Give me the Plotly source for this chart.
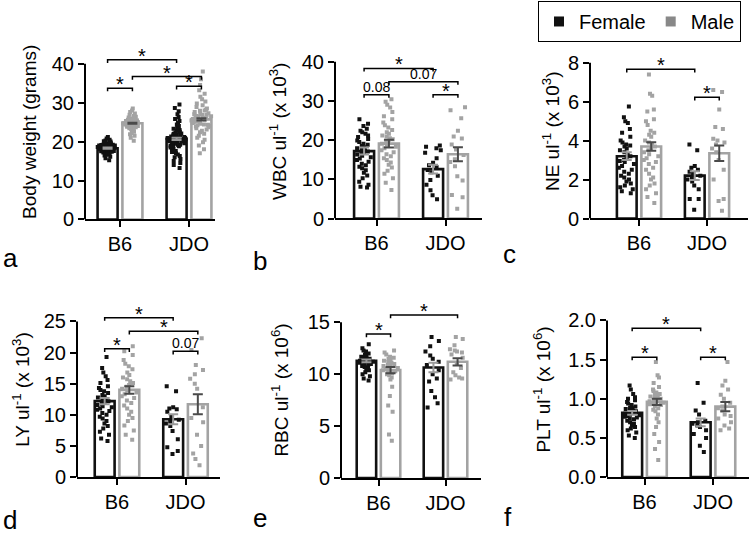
import plotly.graph_objects as go

groups = ['B6', 'JDO']
FEMALE_C = '#111111'
MALE_C = '#a3a3a3'
FONT = 'Liberation Sans, Arial, sans-serif'

# ── a: body weight (grams) ───────────────────────────────────────────────
bw_b6_f = [15.2, 15.7, 16.1, 16.4, 16.6, 16.8, 16.9, 17.0, 17.1, 17.2, 17.3, 17.3, 17.4, 17.5,
           17.5, 17.6, 17.7, 17.8, 17.8, 17.9, 18.0, 18.0, 18.1, 18.1, 18.2, 18.2, 18.3, 18.3,
           18.3, 18.4, 18.4, 18.5, 18.5, 18.5, 18.6, 18.6, 18.7, 18.7, 18.8, 18.8, 18.9, 18.9,
           19.0, 19.0, 19.1, 19.2, 19.2, 19.3, 19.4, 19.5, 19.6, 19.7, 19.8, 20.0, 20.1, 20.3,
           20.5, 20.8, 21.2, 17.9, 18.2, 18.4, 18.6, 18.1, 19.1, 17.6, 18.9, 18.0, 18.4, 18.7]
bw_b6_m = [20.2, 21.0, 21.5, 21.9, 22.2, 22.5, 22.8, 23.0, 23.2, 23.4, 23.5, 23.6, 23.8, 23.9,
           24.0, 24.1, 24.2, 24.2, 24.3, 24.4, 24.5, 24.5, 24.6, 24.6, 24.7, 24.7, 24.8, 24.8,
           24.9, 25.0, 25.0, 25.1, 25.2, 25.3, 25.3, 25.4, 25.5, 25.6, 25.7, 25.8, 26.0, 26.2,
           26.4, 26.6, 26.9, 27.2, 27.6, 28.0, 28.5, 24.3, 24.6, 24.9, 25.2, 24.4, 24.8, 25.5,
           23.7, 24.1, 25.9, 24.7]
bw_jdo_f = [13.2, 14.0, 14.5, 15.0, 15.5, 16.0, 16.3, 16.7, 17.0, 17.3, 17.6, 17.9, 18.1, 18.3,
            18.5, 18.7, 18.9, 19.1, 19.3, 19.5, 19.6, 19.8, 20.0, 20.1, 20.2, 20.3, 20.4, 20.5,
            20.6, 20.7, 20.8, 20.9, 21.0, 21.1, 21.2, 21.4, 21.5, 21.7, 21.9, 22.1, 22.3, 22.5,
            22.8, 23.0, 23.3, 23.6, 24.0, 24.4, 24.8, 25.3, 25.8, 26.3, 27.0, 27.8, 28.6, 29.5,
            19.4, 20.6, 21.3, 19.9, 20.9, 21.8, 18.8, 20.2, 22.0, 19.2]
bw_jdo_m = [17.0, 18.0, 19.0, 19.8, 20.5, 21.0, 21.5, 22.0, 22.4, 22.8, 23.1, 23.4, 23.7, 24.0,
            24.2, 24.4, 24.6, 24.8, 25.0, 25.2, 25.4, 25.6, 25.7, 25.8, 26.0, 26.2, 26.4, 26.6,
            26.8, 27.0, 27.3, 27.6, 27.9, 28.2, 28.5, 28.9, 29.3, 29.8, 30.3, 30.9, 31.5, 32.3,
            33.2, 34.5, 36.0, 38.0, 25.3, 26.1, 24.9, 27.1, 25.9, 26.5, 24.3, 28.0, 23.9, 26.9]
bw_mean = [18.3, 24.7, 20.7, 25.7]
bw_sem = [0.15, 0.15, 0.3, 0.3]

# ── b: WBC ───────────────────────────────────────────────────────────────
wbc_b6_f = [25.3, 24.2, 23.6, 22.9, 22.4, 22.0, 21.6, 21.2, 20.8, 20.3, 19.9, 19.5, 19.1, 18.8,
            18.5, 18.2, 17.9, 17.6, 17.4, 17.1, 16.9, 16.6, 16.3, 16.0, 15.6, 15.3, 14.9, 14.5,
            14.0, 13.6, 13.2, 12.8, 12.3, 11.7, 11.0, 10.3, 9.4, 8.6, 8.1, 7.9]
wbc_b6_m = [30.4, 29.8, 29.0, 28.3, 27.2, 26.1, 25.3, 24.5, 23.8, 23.2, 22.6, 22.0, 21.6, 21.2,
            20.9, 20.5, 20.2, 19.9, 19.5, 19.1, 18.7, 18.3, 17.9, 17.4, 16.9, 16.4, 15.9, 15.4,
            14.9, 14.3, 13.7, 13.0, 12.2, 11.4, 10.3, 9.1, 7.3]
wbc_jdo_f = [18.6, 18.3, 17.9, 17.4, 16.8, 15.4, 14.2, 13.6, 13.1, 12.4, 11.8, 10.9, 9.8, 8.6,
             7.2, 5.9, 4.9]
wbc_jdo_m = [28.4, 27.6, 25.6, 22.4, 20.9, 20.4, 18.9, 17.6, 16.2, 15.1, 14.4, 13.3, 10.8, 9.7,
             6.0, 5.4, 2.5]
wbc_mean = [17.2, 19.1, 12.6, 16.4]
wbc_sem = [0.9, 1.0, 1.1, 1.8]

# ── c: NE ────────────────────────────────────────────────────────────────
ne_b6_f = [5.75, 5.2, 5.0, 4.9, 4.6, 4.4, 4.2, 4.0, 3.9, 3.8, 3.75, 3.7, 3.6, 3.5, 3.4, 3.3, 3.2,
           3.1, 3.0, 2.95, 2.9, 2.8, 2.7, 2.6, 2.5, 2.4, 2.3, 2.2, 2.1, 2.0, 1.9, 1.8, 1.7, 1.6,
           1.5, 1.4, 1.3]
ne_b6_m = [7.4, 6.4, 6.3, 5.6, 5.5, 5.1, 5.0, 4.8, 4.5, 4.4, 4.3, 4.2, 4.0, 3.9, 3.8, 3.7, 3.6,
           3.5, 3.4, 3.3, 3.2, 3.1, 3.0, 2.9, 2.8, 2.6, 2.5, 2.3, 2.1, 2.0, 1.8, 1.7, 1.5, 1.3,
           1.1, 0.8]
ne_jdo_f = [3.8, 3.5, 2.7, 2.6, 2.5, 2.4, 2.3, 2.2, 2.1, 2.0, 1.9, 1.7, 1.5, 1.0, 1.0, 0.45]
ne_jdo_m = [6.6, 6.5, 5.6, 4.7, 4.6, 4.1, 4.0, 3.9, 3.8, 3.6, 3.4, 3.0, 2.5, 2.0, 1.0, 0.9, 0.4]
ne_mean = [3.2, 3.7, 2.2, 3.35]
ne_sem = [0.2, 0.22, 0.22, 0.4]

# ── d: LY ────────────────────────────────────────────────────────────────
ly_b6_f = [19.3, 17.5, 16.8, 16.2, 15.6, 15.1, 14.6, 14.3, 14.0, 13.8, 13.5, 13.2, 13.0, 12.8,
           12.6, 12.4, 12.2, 12.0, 11.8, 11.6, 11.4, 11.2, 11.0, 10.8, 10.6, 10.3, 10.0, 9.7,
           9.4, 9.0, 8.6, 8.2, 7.8, 7.3, 6.8, 6.2, 5.8]
ly_b6_m = [21.0, 20.2, 19.6, 18.8, 18.2, 17.8, 17.3, 16.8, 16.4, 16.0, 15.7, 15.4, 15.1, 14.8,
           14.5, 14.2, 13.9, 13.6, 13.3, 13.0, 12.7, 12.3, 11.9, 11.5, 11.0, 10.5, 10.0, 9.5,
           9.0, 8.3, 7.5, 6.8, 6.0]
ly_jdo_f = [14.6, 13.8, 11.2, 11.0, 10.9, 10.5, 9.8, 9.2, 8.9, 8.6, 8.2, 7.4, 6.1, 4.8, 4.2, 3.7]
ly_jdo_m = [22.3, 20.4, 18.0, 17.2, 16.5, 15.8, 15.0, 14.2, 11.2, 9.5, 8.8, 6.8, 5.0, 3.8, 2.9, 1.9]
ly_mean = [12.2, 14.0, 9.3, 11.7]
ly_sem = [0.5, 0.6, 0.8, 1.6]

# ── e: RBC ───────────────────────────────────────────────────────────────
rbc_b6_f = [12.9, 12.5, 12.3, 12.2, 12.0, 11.9, 11.8, 11.7, 11.6, 11.5, 11.5, 11.4, 11.4, 11.3,
            11.3, 11.2, 11.2, 11.1, 11.0, 11.0, 10.9, 10.8, 10.7, 10.6, 10.5, 10.4, 10.2, 10.0,
            9.8, 9.6, 9.4]
rbc_b6_m = [12.3, 12.1, 11.9, 11.7, 11.6, 11.5, 11.4, 11.3, 11.2, 11.1, 11.0, 10.9, 10.9, 10.8,
            10.7, 10.6, 10.5, 10.4, 10.3, 10.2, 10.1, 10.0, 9.9, 9.7, 9.5, 8.8, 7.9, 7.0, 6.4,
            4.2, 3.6]
rbc_jdo_f = [13.6, 13.2, 12.7, 12.2, 11.8, 11.5, 11.2, 10.9, 10.4, 10.0, 9.6, 9.3, 8.4, 7.8,
             7.2, 6.8]
rbc_jdo_m = [13.6, 13.4, 12.8, 12.4, 12.3, 12.2, 12.1, 11.9, 11.6, 11.0, 10.6, 10.2, 9.9, 9.7,
             9.6, 9.5]
rbc_mean = [11.3, 10.4, 10.65, 11.2]
rbc_sem = [0.13, 0.3, 0.45, 0.35]

# ── f: PLT ───────────────────────────────────────────────────────────────
plt_b6_f = [1.17, 1.12, 1.06, 1.02, 1.0, 0.98, 0.96, 0.94, 0.92, 0.9, 0.89, 0.88, 0.87, 0.86,
            0.85, 0.84, 0.83, 0.82, 0.81, 0.8, 0.79, 0.78, 0.77, 0.76, 0.75, 0.74, 0.72, 0.7,
            0.68, 0.66, 0.64, 0.62, 0.6, 0.57, 0.53, 0.5]
plt_b6_m = [1.47, 1.3, 1.27, 1.2, 1.15, 1.12, 1.1, 1.08, 1.06, 1.05, 1.04, 1.03, 1.02, 1.01,
            1.0, 0.99, 0.98, 0.97, 0.96, 0.95, 0.94, 0.93, 0.92, 0.9, 0.88, 0.86, 0.84, 0.8,
            0.75, 0.7, 0.64, 0.55, 0.45, 0.36, 0.22]
plt_jdo_f = [1.2, 0.95, 0.85, 0.8, 0.72, 0.7, 0.68, 0.66, 0.64, 0.6, 0.55, 0.5, 0.4, 0.32]
plt_jdo_m = [1.47, 1.23, 1.17, 1.12, 1.05, 1.0, 0.95, 0.9, 0.88, 0.85, 0.8, 0.78, 0.75, 0.7,
             0.66, 0.62, 0.6]
plt_mean = [0.82, 0.96, 0.70, 0.90]
plt_sem = [0.025, 0.04, 0.05, 0.06]

# significance brackets: (from group, to group, height, label); 0=B6 F, 1=B6 M, 2=JDO F, 3=JDO M
bw_sig = [(0, 2, 41.0, '*'), (1, 3, 36.7, '*'), (0, 1, 33.7, '*'), (2, 3, 34.2, '*')]
wbc_sig = [(0, 2, 38.3, '*'), (1, 3, 34.9, '0.07'), (0, 1, 31.6, '0.08'), (2, 3, 31.6, '*')]
ne_sig = [(0, 2, 7.66, '*'), (2, 3, 6.22, '*')]
ly_sig = [(0, 2, 25.6, '*'), (1, 3, 23.4, '*'), (0, 1, 20.6, '*'), (2, 3, 20.2, '0.07')]
rbc_sig = [(1, 3, 15.7, '*'), (0, 1, 13.87, '*')]
plt_sig = [(0, 2, 1.9, '*'), (0, 1, 1.53, '*'), (2, 3, 1.53, '*')]

# panel layout in pixels: axis left/right, y of zero, y of top tick, centre of B6 pair, px per unit
panels = [
    dict(lab='a', title='Body weight (grams)', pts=[bw_b6_f, bw_b6_m, bw_jdo_f, bw_jdo_m],
         mean=bw_mean, sem=bw_sem, sig=bw_sig, ticks=[0, 10, 20, 30, 40], fmt='', jit=1.0,
         L=85, R=215, y0=224, yt=65, c1=120, s=69, top=45, standoff=10, labpos=(1, 263)),
    dict(lab='b', title='WBC ul<sup>-1</sup> (x 10<sup>3</sup>)',
         pts=[wbc_b6_f, wbc_b6_m, wbc_jdo_f, wbc_jdo_m],
         mean=wbc_mean, sem=wbc_sem, sig=wbc_sig, ticks=[0, 10, 20, 30, 40], fmt='', jit=0.85,
         L=335, R=482, y0=223, yt=63, c1=376.5, s=69, top=45, standoff=10, labpos=(251, 266)),
    dict(lab='c', title='NE ul<sup>-1</sup> (x 10<sup>3</sup>)',
         pts=[ne_b6_f, ne_b6_m, ne_jdo_f, ne_jdo_m],
         mean=ne_mean, sem=ne_sem, sig=ne_sig, ticks=[0, 2, 4, 6, 8], fmt='', jit=0.85,
         L=590, R=748, y0=223, yt=64, c1=639, s=68, top=45, standoff=3, labpos=(501, 259)),
    dict(lab='d', title='LY ul<sup>-1</sup> (x 10<sup>3</sup>)',
         pts=[ly_b6_f, ly_b6_m, ly_jdo_f, ly_jdo_m],
         mean=ly_mean, sem=ly_sem, sig=ly_sig, ticks=[0, 5, 10, 15, 20, 25], fmt='', jit=0.85,
         L=77, R=220, y0=487, yt=328, c1=117, s=68.5, top=308, standoff=9, labpos=(1, 531)),
    dict(lab='e', title='RBC ul<sup>-1</sup> (x 10<sup>6</sup>)',
         pts=[rbc_b6_f, rbc_b6_m, rbc_jdo_f, rbc_jdo_m],
         mean=rbc_mean, sem=rbc_sem, sig=rbc_sig, ticks=[0, 5, 10, 15], fmt='', jit=0.85,
         L=341, R=481, y0=488, yt=329, c1=378.5, s=67, top=308, standoff=14, labpos=(251, 529)),
    dict(lab='f', title='PLT ul<sup>-1</sup> (x 10<sup>6</sup>)',
         pts=[plt_b6_f, plt_b6_m, plt_jdo_f, plt_jdo_m],
         mean=plt_mean, sem=plt_sem, sig=plt_sig, ticks=[0, 0.5, 1.0, 1.5, 2.0], fmt='.1f',
         jit=0.85,
         L=607, R=749, y0=487, yt=327, c1=644.5, s=68.5, top=308, standoff=12, labpos=(502, 528)),
]

W, H = 750, 545
OFF, BW = 0.18, 0.29
pos = [1 - OFF, 1 + OFF, 2 - OFF, 2 + OFF]

fig = go.Figure()
layout = {}
shapes = []
annotations = []

for i, p in enumerate(panels):
    n = '' if i == 0 else str(i + 1)
    xa, ya = 'x' + n, 'y' + n
    ytop = p['ticks'][-1]
    ymax = ytop * (p['y0'] - p['top']) / (p['y0'] - p['yt'])
    x0 = 1 + (p['L'] - p['c1']) / p['s']
    x1 = 1 + (p['R'] - p['c1']) / p['s']

    # bars (mean)
    for k, col in enumerate([FEMALE_C, MALE_C]):
        fig.add_trace(go.Bar(x=[pos[k], pos[k + 2]], y=[p['mean'][k], p['mean'][k + 2]],
                             width=BW, marker=dict(color='white', line=dict(color=col, width=2.6)),
                             showlegend=False, xaxis=xa, yaxis=ya))
    # individual animals
    for k, col in enumerate([FEMALE_C, MALE_C]):
        a, b = p['pts'][k], p['pts'][k + 2]
        fig.add_trace(go.Box(x=[pos[k]] * len(a) + [pos[k + 2]] * len(b), y=a + b,
                             width=BW, boxpoints='all', jitter=p['jit'], pointpos=0,
                             fillcolor='rgba(0,0,0,0)', line=dict(width=0, color='rgba(0,0,0,0)'),
                             whiskerwidth=0,
                             marker=dict(symbol='square', size=4, color=col),
                             showlegend=False, xaxis=xa, yaxis=ya))
    # SEM error bars drawn on top of the points
    for k, col in enumerate(['#9a9a9a', '#4a4a4a']):
        fig.add_trace(go.Scatter(x=[pos[k], pos[k + 2]], y=[p['mean'][k], p['mean'][k + 2]],
                                 mode='markers', marker=dict(size=1, color='rgba(0,0,0,0)'),
                                 error_y=dict(type='data', array=[p['sem'][k], p['sem'][k + 2]],
                                              color=col, thickness=2, width=5),
                                 showlegend=False, xaxis=xa, yaxis=ya))
    # significance brackets
    drop = 0.02 * ytop
    bx, by = [], []
    for g0, g1, h, label in p['sig']:
        bx += [pos[g0], pos[g0], pos[g1], pos[g1], None]
        by += [h - drop, h, h, h - drop, None]
        mid = (pos[g0] + pos[g1]) / 2
        if label == '*':
            annotations.append(dict(x=mid, y=h, xref=xa, yref=ya, text='*', showarrow=False,
                                    yanchor='bottom', yshift=-9,
                                    font=dict(size=20, color='black', family=FONT)))
        else:
            annotations.append(dict(x=mid, y=h, xref=xa, yref=ya, text=label, showarrow=False,
                                    yanchor='bottom', yshift=-2,
                                    font=dict(size=14, color='black', family=FONT)))
    fig.add_trace(go.Scatter(x=bx, y=by, mode='lines', line=dict(color='black', width=1.5),
                             showlegend=False, xaxis=xa, yaxis=ya))

    layout['xaxis' + n] = dict(domain=[p['L'] / W, p['R'] / W], range=[x0, x1],
                               anchor=ya, tickvals=[1, 2], ticktext=groups,
                               showline=True, linecolor='black', linewidth=2,
                               ticks='outside', ticklen=6, tickwidth=2, tickcolor='black',
                               showgrid=False, zeroline=False,
                               tickfont=dict(size=20, color='black', family=FONT))
    layout['yaxis' + n] = dict(domain=[1 - p['y0'] / H, 1 - p['top'] / H], range=[0, ymax],
                               anchor=xa, tickvals=p['ticks'], tickformat=p['fmt'],
                               showline=False, ticks='outside', ticklen=6, tickwidth=2,
                               tickcolor='black', showgrid=False, zeroline=False,
                               tickfont=dict(size=20, color='black', family=FONT),
                               title=dict(text=p['title'], standoff=p['standoff'],
                                          font=dict(size=19, color='black', family=FONT)))
    # y axis line stops at the top tick
    shapes.append(dict(type='line', xref=xa + ' domain', yref=ya, x0=0, x1=0, y0=0, y1=ytop,
                       line=dict(color='black', width=2)))
    annotations.append(dict(x=p['labpos'][0] / W, y=1 - p['labpos'][1] / H, xref='paper',
                            yref='paper', text=p['lab'], showarrow=False, xanchor='left',
                            yanchor='middle', font=dict(size=26, color='black', family=FONT)))

# legend entries
fig.add_trace(go.Scatter(x=[None], y=[None], mode='markers', name='Female',
                         marker=dict(symbol='square', size=10, color=FEMALE_C)))
fig.add_trace(go.Scatter(x=[None], y=[None], mode='markers', name='Male',
                         marker=dict(symbol='square', size=10, color='#888888')))

fig.update_layout(width=W, height=H, margin=dict(l=0, r=0, t=0, b=0),
                  plot_bgcolor='white', paper_bgcolor='white',
                  barmode='overlay', boxmode='overlay',
                  font=dict(family=FONT, color='black'),
                  shapes=shapes, annotations=annotations,
                  legend=dict(orientation='h', x=538 / W, y=1 - 1 / H, xanchor='left',
                              yanchor='top', bordercolor='black', borderwidth=1,
                              font=dict(size=20, color='black', family=FONT),
                              itemwidth=30, tracegroupgap=0),
                  **layout)

fig.write_html("out.html", config={'displayModeBar': False},
               post_script="document.body.style.margin='0';")
